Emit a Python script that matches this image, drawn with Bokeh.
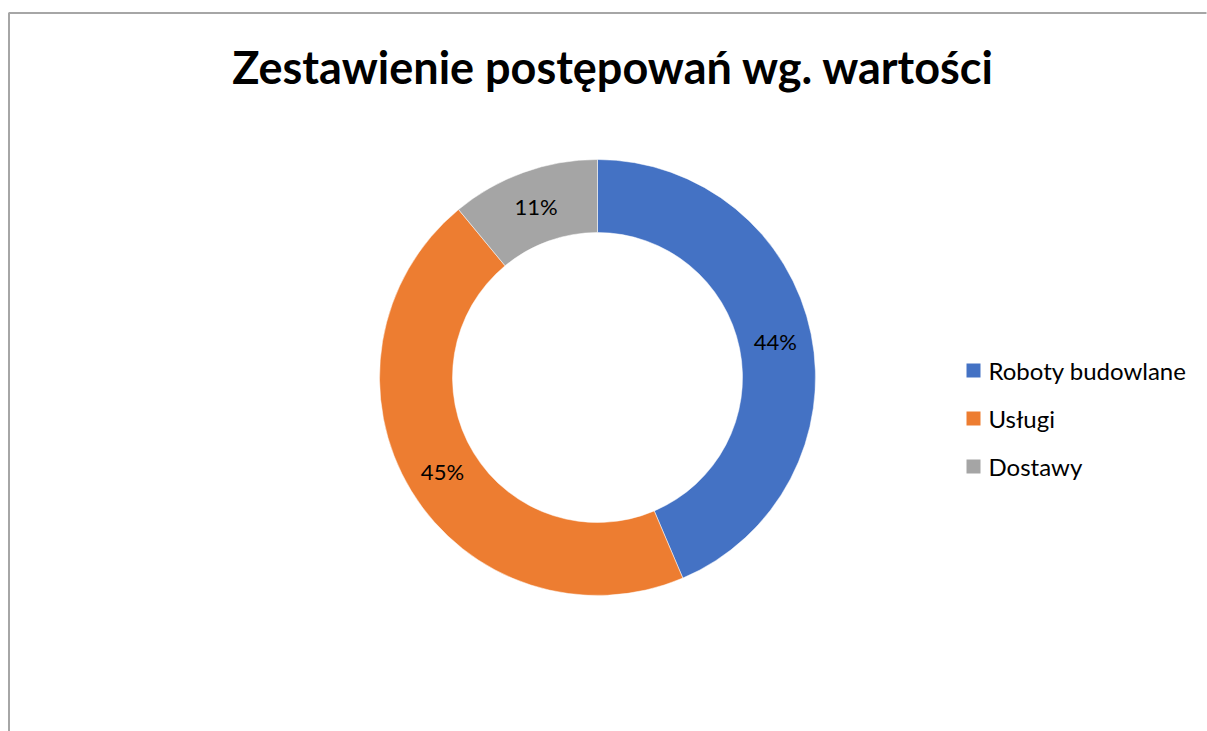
import numpy as np
from bokeh.plotting import figure
from bokeh.models import ColumnDataSource, Range1d
from bokeh.core.properties import value
from bokeh.embed import file_html
from bokeh.resources import INLINE

title = "Zestawienie postępowań wg. wartości"
categories = ["Roboty budowlane", "Usługi", "Dostawy"]
shares = [43.6, 45.4, 11.0]
colors = ["#4472C4", "#ED7D31", "#A5A5A5"]

W, H = 1207, 731
p = figure(width=W, height=H, output_backend="svg", toolbar_location=None,
           x_range=Range1d(0, W), y_range=Range1d(0, H), min_border=0)
p.axis.visible = False
p.grid.visible = False
p.outline_line_color = None
p.background_fill_color = "white"

# chart area border (top and left visible)
p.line([8.5, 8.5, 1206], [-5, H - 12.5, H - 12.5], line_color="#A6A6A6", line_width=2)

cx, cy = 597, H - 377
r_out, r_in = 218, 145
vals = np.array(shares)
frac = vals / vals.sum()
ends = np.pi / 2 - 2 * np.pi * np.cumsum(frac)
starts = np.concatenate([[np.pi / 2], ends[:-1]])
mids = (starts + ends) / 2
src = ColumnDataSource(dict(start=ends, end=starts, color=colors))
p.annular_wedge(x=cx, y=cy, inner_radius=r_in, outer_radius=r_out,
                start_angle="start", end_angle="end", fill_color="color",
                line_color="white", line_width=0.5, source=src)

r_lab = (r_in + r_out) / 2
labels = [f"{round(f * 100)}%" for f in frac]
lsrc = ColumnDataSource(dict(x=cx + r_lab * np.cos(mids), y=cy + r_lab * np.sin(mids), t=labels))
p.text(x="x", y="y", text="t", source=lsrc, text_align="center", text_baseline="middle",
       text_font=value("Lato"), text_font_size="22px", text_color="#000000")

# title
p.text(x=[613], y=[H - 66], text=[title], text_align="center", text_baseline="middle",
       text_font=value("Lato"), text_font_style="bold", text_font_size="45px", text_color="#000000")

# legend
n = len(categories)
ly = H - (370 + 48 * np.arange(n))
p.rect(x=[973] * n, y=ly, width=14, height=14, fill_color=colors, line_color=None)
p.text(x=[988] * n, y=ly, text=categories, text_align="left", text_baseline="middle",
       text_font=value("Lato"), text_font_size="24px", text_color="#000000")

open("out.html", "w").write(file_html(p, INLINE))
